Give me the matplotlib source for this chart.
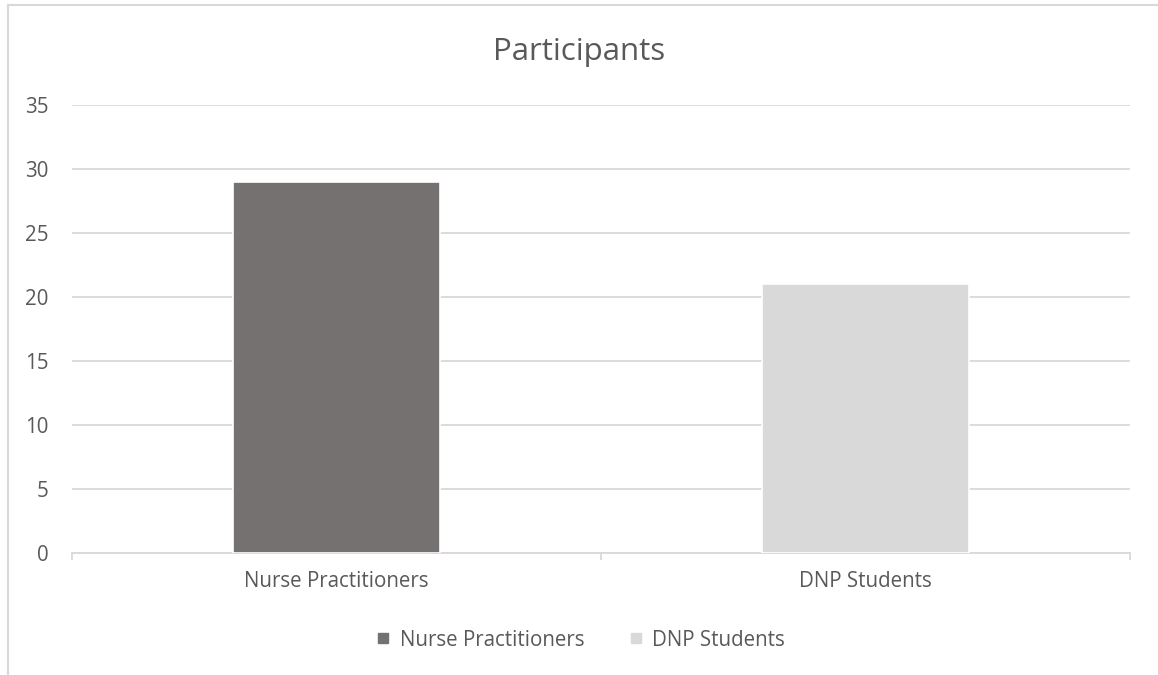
import matplotlib.pyplot as plt
from matplotlib.lines import Line2D

categories = ['Nurse Practitioners', 'DNP Students']
values = [29, 21]
colors = ['#767171', '#D9D9D9']
yticks = [0, 5, 10, 15, 20, 25, 30, 35]

plt.rcParams['font.family'] = ['Open Sans', 'DejaVu Sans']
txt = '#595959'
grid = '#D9D9D9'

fig = plt.figure(figsize=(11.58, 6.75), dpi=100)
# plot area in pixels: x 72..1130, y 105..553 (0 at 553, 35 at 105)
ax = fig.add_axes([72 / 1158, 1 - 553 / 675, (1130 - 72) / 1158, (553 - 105) / 675])

x = list(range(len(categories)))
ax.bar(x, values, width=0.39, color=colors, edgecolor='white', linewidth=1.2, zorder=3)

ax.set_xlim(-0.5, len(categories) - 0.5)
ax.set_ylim(0, 35)
ax.set_yticks(yticks)
ax.yaxis.grid(True, color=grid, linewidth=1.3, zorder=0)
ax.set_axisbelow(True)
for s in ['top', 'right', 'left']:
    ax.spines[s].set_visible(False)
ax.spines['bottom'].set_color(grid)
ax.spines['bottom'].set_linewidth(1.3)

ax.set_xticks(x)
ax.set_xticklabels(categories)
ax.set_xticks([-0.5, 0.5, 1.5], minor=True)
ax.tick_params(axis='x', which='major', length=0, pad=13, labelsize=14.8, labelcolor=txt)
ax.tick_params(axis='x', which='minor', length=5, color=grid, width=1.3)
ax.tick_params(axis='y', length=0, pad=17, labelsize=14.8, labelcolor=txt)

fig.text(0.5, 1 - 52 / 675, 'Participants', ha='center', va='center', fontsize=22.5, color=txt)

handles = [Line2D([], [], marker='s', linestyle='none', markersize=7,
                  markerfacecolor=c, markeredgecolor=c) for c in colors]
fig.legend(handles, categories, loc='center', bbox_to_anchor=(0.5, 1 - 640 / 675),
           ncol=2, frameon=False, fontsize=14.8, labelcolor=txt,
           handletextpad=0.3, columnspacing=2.0, handlelength=1.0)

# chart border (left and top visible)
fig.add_artist(Line2D([8 / 1158, 8 / 1158], [0, 1 - 5 / 675], color=grid, linewidth=1.5))
fig.add_artist(Line2D([8 / 1158, 1], [1 - 5 / 675, 1 - 5 / 675], color=grid, linewidth=1.5))

fig.savefig('out.png', dpi=100, facecolor='white')
